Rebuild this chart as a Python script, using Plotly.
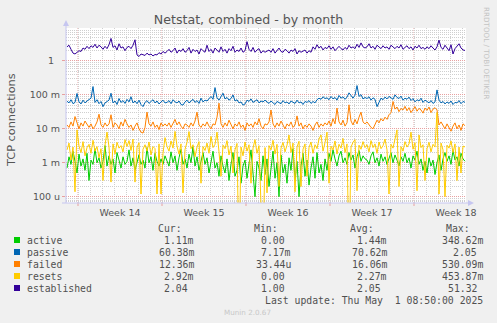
import numpy as np
import pandas as pd
import plotly.graph_objects as go

# ---- data (4-hourly samples, 33-day window) ----
times = pd.date_range("2025-03-30 02:00", periods=200, freq="4h")

# values in milli-connections
active_m = [
    0.7, 1.5, 0.9, 2.2, 1.1, 0.5, 1.8, 0.8, 1.3, 0.6,
    1.9, 0.3, 1.2, 0.9, 2.6, 1.0, 1.4, 0.7, 1.1, 3.2,
    0.8, 1.6, 0.9, 1.3, 0.5, 2.0, 1.2, 0.7, 1.5, 0.9,
    1.1, 2.4, 0.8, 1.4, 0.6, 1.0, 1.7, 0.9, 1.2, 0.7,
    2.8, 1.0, 1.5, 0.6, 1.9, 1.1, 0.8, 1.3, 0.9, 1.6,
    1.2, 0.8, 2.1, 1.0, 1.6, 0.6, 1.4, 2.5, 0.9, 1.3,
    0.7, 1.8, 1.0, 3.0, 0.8, 1.5, 0.6, 1.2, 2.0, 0.9,
    1.4, 0.5, 1.1, 2.2, 0.7, 1.0, 0.4, 1.6, 0.8, 0.5,
    1.3, 0.3, 0.9, 2.0, 0.4, 0.6, 1.5, 0.25, 0.8, 1.2,
    0.35, 1.0, 2.4, 0.5, 0.1, 1.1, 0.7, 0.3, 1.6, 0.45,
    1.3, 0.2, 0.8, 2.2, 0.35, 1.0, 0.1, 1.7, 0.5, 0.9,
    0.25, 1.4, 0.6, 2.6, 0.3, 1.1, 0.1, 0.8, 1.9, 0.4,
    1.2, 0.22, 0.7, 1.5, 0.35, 2.0, 0.5, 0.9, 0.3, 1.3,
    0.6, 1.9, 1.1, 2.4, 1.3, 0.8, 1.6, 2.2, 1.0, 1.4,
    0.9, 2.0, 1.2, 1.7, 0.7, 1.5, 2.3, 1.1, 1.6, 1.3,
    1.2, 0.9, 1.6, 2.1, 1.0, 1.4, 0.8, 1.8, 1.1, 1.5,
    0.9, 1.3, 2.0, 1.0, 1.7, 1.2, 0.8, 1.5, 1.1, 1.9,
    1.0, 1.4, 0.7, 1.6, 1.2, 2.2, 0.9, 1.3, 0.6, 1.1,
    0.5, 1.4, 0.8, 1.2, 0.45, 1.0, 1.7, 0.6, 1.3, 2.0,
    1.1, 1.6, 0.9, 2.3, 1.2, 1.5, 0.8, 1.9, 1.3, 1.11,
]
passive_m = [
    65, 58, 72, 55, 60, 110, 62, 54, 70, 58,
    66, 75, 80, 176, 60, 72, 55, 64, 45, 58,
    62, 70, 112, 58, 66, 52, 78, 60, 68, 56,
    74, 62, 88, 58, 66, 55, 70, 52, 45, 60,
    68, 56, 64, 72, 58, 66, 54, 62, 70, 58,
    60, 68, 55, 72, 62, 58, 66, 52, 50, 62,
    70, 58, 64, 74, 60, 68, 56, 80, 62, 70,
    66, 78, 90, 74, 164, 82, 70, 88, 112, 76,
    84, 70, 78, 100, 66, 72, 58, 62, 50, 54,
    70, 64, 76, 60, 68, 72, 58, 66, 62, 70,
    62, 56, 66, 58, 52, 64, 60, 55, 68, 58,
    62, 54, 66, 60, 56, 70, 58, 62, 52, 64,
    60, 68, 56, 64, 58, 72, 80, 74, 88, 78,
    82, 72, 90, 76, 84, 70, 96, 80, 88, 74,
    86, 115, 94, 80, 98, 188, 90, 102, 76, 84,
    78, 88, 70, 82, 74, 45, 60, 80, 72, 86,
    76, 90, 82, 74, 100, 84, 78, 92, 70, 80,
    74, 86, 68, 78, 62, 72, 66, 80, 60, 70,
    64, 58, 68, 56, 62, 140, 70, 58, 64, 54,
    62, 56, 66, 52, 60, 58, 68, 55, 64, 60.38,
]
failed_m = [
    13, 11, 16, 12, 23, 14, 10, 15, 12, 17,
    13, 11, 14, 10, 12, 16, 27, 13, 11, 15,
    12, 14, 26, 11, 15, 13, 10, 16, 12, 19,
    14, 11, 13, 9, 12, 15, 10, 8, 7.5, 11,
    31, 14, 12, 16, 11, 13, 9.5, 15, 12, 14,
    12, 15, 11, 14, 19, 13, 16, 12, 10, 14,
    13, 11, 15, 12, 17, 31, 13, 11, 14, 12,
    16, 12, 10, 14, 13, 22, 57, 14, 11, 15,
    12, 18, 13, 10, 14, 12, 16, 11, 13, 9,
    15, 12, 14, 11, 16, 13, 20, 12, 10, 14,
    13, 16, 36, 14, 11, 15, 12, 17, 13, 10,
    14, 12, 16, 11, 13, 24, 12, 15, 10, 13,
    11, 14, 12, 9, 13, 16, 11, 14, 12, 15,
    13, 17, 12, 20, 14, 41, 16, 13, 18, 12,
    15, 51, 17, 13, 19, 14, 22, 31, 16, 14,
    16, 13, 11, 10, 14, 18, 15, 20, 17, 22,
    19, 26, 30, 64, 38, 44, 32, 40, 36, 46,
    34, 42, 30, 38, 45, 33, 40, 36, 29, 41,
    35, 44, 30, 38, 42, 36, 13, 16, 12, 10,
    14, 11, 8.5, 12, 15, 10, 13, 9, 14, 12.36,
]
resets_m = [
    2.4, 3.8, 1.2, 2.9, 0.14, 9.3, 3.1, 2.0, 4.2, 1.6,
    2.8, 3.5, 1.9, 4.6, 2.2, 3.0, 1.4, 2.6, 0.3, 3.3,
    8.0, 2.9, 0.27, 3.6, 1.8, 4.0, 2.7, 3.2, 2.1, 4.8,
    3.0, 4.5, 2.3, 5.0, 0.27, 2.8, 3.9, 0.12, 2.5, 3.4,
    2.2, 4.1, 1.7, 3.0, 2.6, 0.12, 3.6, 0.12, 1.9, 5.5,
    3.0, 2.2, 4.4, 2.7, 8.4, 3.1, 1.8, 3.6, 0.13, 2.5,
    4.0, 8.3, 2.6, 3.4, 1.5, 2.9, 4.2, 0.25, 3.0, 2.3,
    3.8, 1.9, 6.0, 2.8, 3.5, 8.0, 2.1, 0.4, 3.3, 2.6,
    4.5, 1.7, 3.1, 0.5, 2.4, 3.7, 0, 2.9, 1.6, 4.1,
    2.2, 3.4, 0.25, 2.7, 4.8, 1.9, 3.2, 0.09, 0, 2.8,
    0.13, 3.2, 2.4, 4.6, 1.8, 3.5, 0.2, 2.7, 4.0, 2.1,
    3.3, 6.6, 2.0, 3.8, 0.14, 2.9, 4.3, 0.2, 2.5, 3.6,
    0.4, 2.8, 4.1, 1.9, 3.4, 2.6, 5.0, 6.6, 2.2, 3.9,
    8.0, 0.25, 3.1, 2.4, 4.4, 1.8, 3.5, 2.7, 5.2, 2.0,
    3.6, 0, 2.9, 4.0, 4.8, 0.15, 3.3, 2.5, 4.2, 2.8,
    3.4, 2.1, 4.5, 2.8, 3.6, 1.9, 4.1, 2.6, 3.2, 5.0,
    2.4, 0.12, 3.5, 2.7, 4.6, 9.3, 0.2, 3.0, 2.2, 4.2,
    2.9, 3.6, 8.0, 2.5, 3.9, 0.15, 6.6, 2.8, 3.4, 0.3,
    2.6, 4.0, 2.1, 3.5, 2.9, 30, 0.12, 3.8, 2.4, 0.1,
    3.3, 2.7, 4.4, 2.0, 3.6, 0.3, 2.9, 0.5, 3.1, 2.92,
]
# values in connections
established = [
    2.6, 2.9, 2.2, 1.7, 1.6, 1.8, 2.0, 1.9, 2.4, 2.2,
    2.7, 2.3, 2.8, 2.5, 3.1, 2.4, 2.9, 2.6, 2.2, 2.7,
    2.3, 3.0, 4.6, 2.5, 2.8, 2.1, 3.2, 2.4, 2.6, 2.0,
    2.5, 2.7, 2.3, 2.9, 4.2, 1.5, 1.35, 1.6, 1.5, 1.45,
    1.7, 1.5, 1.6, 1.4, 1.55, 1.5, 1.75, 1.6, 1.9, 1.7,
    1.9, 2.2, 1.8, 2.0, 2.4, 1.7, 2.1, 1.9, 2.3, 1.8,
    2.0, 2.5, 1.7, 2.2, 1.9, 2.1, 1.6, 2.3, 2.0, 1.8,
    2.9, 1.9, 2.2, 1.7, 2.4, 2.0, 1.8, 2.6, 1.9, 2.2,
    1.7, 2.3, 2.0, 2.7, 1.8, 2.1, 1.9, 2.4, 1.8, 2.0,
    3.7, 2.2, 1.9, 2.5, 1.8, 2.1, 2.3, 1.7, 2.0, 1.8,
    1.9, 2.1, 1.8, 2.3, 1.7, 2.0, 2.4, 1.9, 1.8, 2.2,
    2.0, 1.7, 2.1, 1.9, 2.3, 1.6, 2.0, 1.8, 1.9, 2.1,
    1.7, 2.0, 1.8, 2.6, 2.2, 3.0, 2.4, 2.7, 2.1, 2.5,
    2.3, 2.8, 2.2, 2.6, 2.0, 2.4, 2.7, 2.3, 2.1, 2.5,
    2.2, 2.9, 2.4, 2.6, 2.3, 3.1, 2.5, 3.4, 2.6, 2.4,
    2.6, 3.2, 2.4, 2.7, 2.2, 2.9, 2.5, 2.3, 2.8, 2.4,
    2.6, 2.2, 2.9, 2.5, 2.3, 2.7, 2.4, 3.0, 2.2, 2.5,
    2.8, 2.3, 2.6, 2.1, 2.7, 2.4, 2.9, 2.3, 2.5, 2.2,
    2.6, 2.3, 2.8, 2.4, 2.1, 2.6, 4.1, 2.5, 2.2, 2.9,
    2.4, 2.0, 3.0, 1.6, 2.3, 2.7, 3.2, 2.4, 2.1, 2.04,
]

names = ["active", "passive", "failed", "resets", "established"]
colors = ["#00CC00", "#0066B3", "#FF8000", "#FFCC00", "#330099"]
values = [
    np.array(active_m) * 1e-3,
    np.array(passive_m) * 1e-3,
    np.array(failed_m) * 1e-3,
    np.array(resets_m) * 1e-3,
    np.array(established, dtype=float),
]

# summary table (min / avg / max over the stored data)
min_txt = ["0.00\u00a0", "7.17m", "33.44u", "0.00\u00a0", "1.00\u00a0"]
avg_txt = ["1.44m", "70.62m", "16.06m", "2.27m", "2.05\u00a0"]
max_txt = ["348.62m", "2.05\u00a0", "530.09m", "453.87m", "51.32\u00a0"]

y_tickvals = [1e-4, 1e-3, 1e-2, 1e-1, 1]
y_ticktext = ["100 u", "1 m", "10 m", "100 m", "1\u00a0\u00a0"]

x_start = pd.Timestamp("2025-03-30 00:00")
x_end = pd.Timestamp("2025-05-02 08:00")
week_starts = pd.date_range("2025-03-31", periods=5, freq="7D")
week_mids = week_starts + pd.Timedelta(hours=84)
week_text = [f"Week {d.isocalendar().week}" for d in week_starts]

# ---- figure ----
W, H = 497, 323
L, R, T, B = 66, 466, 28, 203


def px_x(p):
    return (p - L) / (R - L)


def px_y(p):
    return (B - p) / (B - T)


fig = go.Figure()
floor = 1e-6  # zero samples drop to the bottom of the log axis
for name, col, v in zip(names, colors, values):
    fig.add_trace(go.Scatter(
        x=times, y=np.where(v > 0, v, floor), mode="lines", name=name,
        line=dict(color=col, width=1), hoverinfo="skip",
    ))

minor_y = [m * 10.0 ** e for e in range(-5, 1) for m in range(2, 10)]

fig.update_layout(
    width=W, height=H,
    margin=dict(l=L, r=W - R, t=T, b=H - B),
    paper_bgcolor="#F0F0F0", plot_bgcolor="#FFFFFF",
    showlegend=False,
    font=dict(family="DejaVu Sans", color="#555555"),
    title=dict(text="Netstat, combined - by month", x=0.5, xref="container",
               y=1 - 20 / H, yref="container", yanchor="middle", xanchor="center",
               font=dict(size=12.6, color="#555555")),
    xaxis=dict(
        type="date", range=[x_start, x_end], showgrid=False, zeroline=False,
        showline=False, tickmode="array", tickvals=week_mids, ticktext=week_text,
        ticks="", ticklabelstandoff=2, tickfont=dict(size=9.5, color="#555555"),
        minor=dict(dtick=86400000, tick0="2025-03-30", showgrid=True,
                   gridcolor="#CFCFCF", griddash="1px,1px", gridwidth=1),
    ),
    yaxis=dict(
        type="log", range=[-4.185, 0.97], zeroline=False, showline=False,
        tickmode="array", tickvals=y_tickvals, ticktext=y_ticktext,
        ticks="outside", ticklen=3, tickcolor="#E8A0A0",
        tickfont=dict(size=9.5, color="#555555"),
        showgrid=True, gridcolor="#E8A0A0", griddash="1px,1px", gridwidth=1,
        minor=dict(tickvals=minor_y, showgrid=True, gridcolor="#CFCFCF",
                   griddash="1px,1px", gridwidth=1),
    ),
)

# weekly major grid lines and their ticks
for d in week_starts:
    fig.add_shape(type="line", xref="x", yref="paper", x0=d, x1=d, y0=0, y1=1,
                  line=dict(color="#E8A0A0", width=1, dash="1px,1px"), layer="below")
    fig.add_shape(type="line", xref="x", yref="paper", x0=d, x1=d, y0=0,
                  y1=-3 / (B - T), line=dict(color="#E8A0A0", width=1))

# axis lines with arrow heads
axis_col = "#C6C6F0"
fig.add_shape(type="line", xref="paper", yref="paper", x0=0, x1=0,
              y0=px_y(B), y1=px_y(24), line=dict(color=axis_col, width=1))
fig.add_shape(type="line", xref="paper", yref="paper", x0=px_x(62), x1=px_x(469),
              y0=0, y1=0, line=dict(color=axis_col, width=1))
fig.add_shape(type="path", xref="paper", yref="paper",
              path=f"M {px_x(63)} {px_y(26)} L {px_x(69)} {px_y(26)} L {px_x(66)} {px_y(20)} Z",
              fillcolor=axis_col, line=dict(color=axis_col, width=0))
fig.add_shape(type="path", xref="paper", yref="paper",
              path=f"M {px_x(468)} {px_y(200)} L {px_x(468)} {px_y(206)} L {px_x(474)} {px_y(203)} Z",
              fillcolor=axis_col, line=dict(color=axis_col, width=0))


def text(x, y, s, anchor="left", size=9.8, family="DejaVu Sans Mono",
         color="#505050", angle=0):
    fig.add_annotation(x=px_x(x), y=px_y(y), xref="paper", yref="paper", text=s,
                       showarrow=False, xanchor=anchor, yanchor="middle",
                       borderpad=0, borderwidth=0, textangle=angle,
                       font=dict(family=family, size=size, color=color))


# axis title and side credits
text(11, 120, "TCP connections", anchor="center", size=11.3,
     family="DejaVu Sans", color="#555555", angle=-90)
text(487, 53, "RRDTOOL / TOBI OETIKER", anchor="center", size=7.2,
     family="DejaVu Sans", color="#C4C4C4", angle=90)

# summary table
text(182, 228, "Cur:", anchor="right")
text(278, 228, "Min:", anchor="right")
text(374, 228, "Avg:", anchor="right")
text(470, 228, "Max:", anchor="right")


def fmt_cur(v, milli):
    return f"{v * 1e3:.2f}m" if milli else f"{v:.2f}\u00a0"


for i, (name, col, v) in enumerate(zip(names, colors, values)):
    yrow = 240 + 12 * i
    fig.add_shape(type="rect", xref="paper", yref="paper",
                  x0=px_x(14), x1=px_x(20), y0=px_y(yrow + 3), y1=px_y(yrow - 3),
                  fillcolor=col, line=dict(width=0))
    text(26.5, yrow, name)
    text(194, yrow, fmt_cur(v[-1], name != "established"), anchor="right")
    text(291, yrow, min_txt[i], anchor="right")
    text(387, yrow, avg_txt[i], anchor="right")
    text(483, yrow, max_txt[i], anchor="right")

text(483, 300, "Last update: Thu May \u00a01 08:50:00 2025", anchor="right")
text(247.5, 312, "Munin 2.0.67", anchor="center", size=7.2,
     family="DejaVu Sans", color="#C8C8C8")

fig.write_html("out.html", config={"displayModeBar": False})
